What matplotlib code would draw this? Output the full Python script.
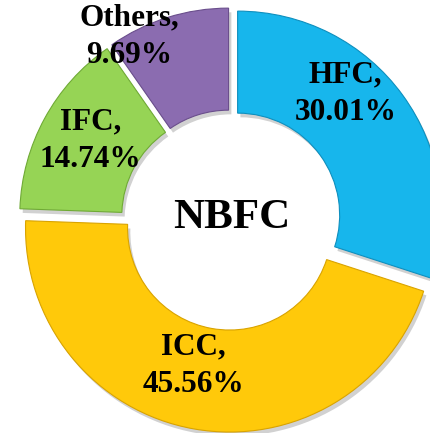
import numpy as np
import matplotlib
matplotlib.use("Agg")
import matplotlib.pyplot as plt
import matplotlib.patheffects as pe

# NBFC segment shares (clockwise from 12 o'clock)
segments = ["HFC", "ICC", "IFC", "Others"]
shares = [30.01, 45.56, 14.74, 9.69]
colors = ["#17B6EC", "#FFC90A", "#96D455", "#8B6CB0"]
edges = ["#0E8FBE", "#D9A300", "#6FAA35", "#6A4E8C"]
explode = [0.04, 0.04, 0.04, 0.04]

# label anchor positions (in units of the ring radius, relative to centre)
label_pos = [(0.56, 0.62), (-0.185, -0.715), (-0.69, 0.39), (-0.50, 0.90)]

fig = plt.figure(figsize=(4.30, 4.33), dpi=100)
ax = fig.add_axes([0, 0, 1, 1])

wedges, _ = ax.pie(shares, startangle=90, counterclock=False, radius=1.0,
                   explode=explode, colors=colors,
                   wedgeprops=dict(width=0.5, linewidth=0.8))
for w, ec in zip(wedges, edges):
    w.set_edgecolor(ec)
    w.set_path_effects([pe.SimplePatchShadow(offset=(2, -3), shadow_rgbFace="#999999", alpha=0.45),
                        pe.Normal()])

for name, val, (x, y) in zip(segments, shares, label_pos):
    ax.text(x, y, f"{name},\n{val:.2f}%", ha="center", va="center",
            fontsize=22.5, fontweight="bold", family="Liberation Serif",
            linespacing=1.38, color="black")

ax.text(0.005, 0.01, "NBFC", ha="center", va="center", fontsize=31,
        fontweight="bold", family="Liberation Serif")

ax.set_aspect("auto")
ax.set_xlim(-1.132, 0.975)
ax.set_ylim(-1.044, 1.078)
ax.axis("off")

fig.savefig("out.png", dpi=100)
